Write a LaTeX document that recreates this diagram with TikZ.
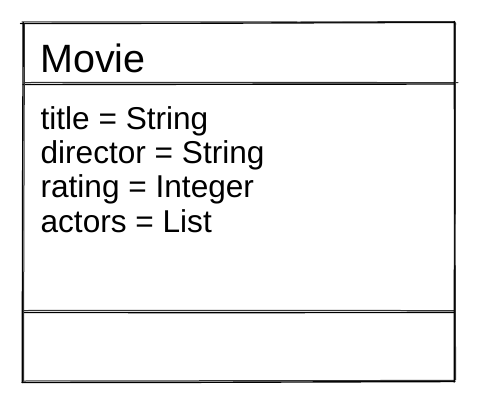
\documentclass[tikz,border=0pt]{standalone}
\usepackage{fontspec}
\setmainfont{Liberation Sans}
\begin{document}
\begin{tikzpicture}[x=1pt,y=-1pt,
  sk/.style={line width=1.4pt, line cap=round, draw=black},
  skb/.style={line width=1.0pt, line cap=round, draw=black!80},
  head/.style={inner sep=0pt, anchor=base west, font=\fontsize{39.5}{42}\selectfont},
  attr/.style={inner sep=0pt, anchor=base west, font=\fontsize{31.6}{34}\selectfont}]
\useasboundingbox (0,0) rectangle (480,410);
% top edge
\draw[sk]  (20.5,23.5) -- (200,23.2) -- (455,22.3);
\draw[skb] (22,21.8) -- (300,22.0) -- (454,21.5);
% header separator
\draw[sk]  (23,84.5) -- (250,84.2) -- (455,84.0);
\draw[skb] (24,82.5) -- (300,82.4) -- (458,82.6);
% section separator
\draw[sk]  (24,312.5) -- (250,312.6) -- (454,312.4);
\draw[skb] (23,310.5) -- (300,310.3) -- (454,310.6);
% bottom edge
\draw[sk]  (22,382.5) -- (200,382.3) -- (455,381.5);
\draw[skb] (23,381) -- (300,380.6) -- (454,380.4);
% left edge
\draw[sk]  (23.2,22.5) -- (22.6,200) -- (22.3,382.5);
\draw[skb] (24.5,24) -- (23.8,250) -- (23.5,381);
% right edge
\draw[sk]  (454.3,21.5) -- (454.6,200) -- (454.2,382);
\draw[skb] (455.5,23) -- (455.2,250) -- (455.6,380);
% texts
\node[head] (cls) at (40,72) {Movie};
\node[attr] (a1) at (40.4,129.5) {title = String};
\node[attr] (a2) at (40.4,163.7) {director = String};
\node[attr] (a3) at (40.4,197.9) {rating = Integer};
\node[attr] (a4) at (40.4,232.1) {actors = List};
\end{tikzpicture}
\end{document}
